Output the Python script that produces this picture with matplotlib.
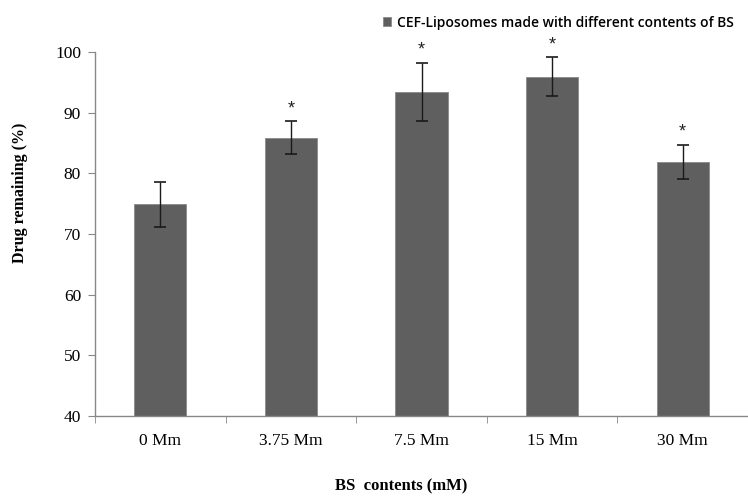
import matplotlib
matplotlib.use('Agg')
import matplotlib.pyplot as plt
import numpy as np

# data
categories = ['0 Mm', '3.75 Mm', '7.5 Mm', '15 Mm', '30 Mm']
drug_remaining = [74.9, 85.9, 93.4, 95.9, 81.9]
sd = [3.7, 2.7, 4.8, 3.2, 2.8]
significant = [False, True, True, True, True]
legend_label = 'CEF-Liposomes made with different contents of BS'

fig = plt.figure(figsize=(7.48, 5.0), dpi=100)
ax = fig.add_axes([95/748, 84/500, 653/748, 364/500])

x = np.arange(len(categories))
ax.bar(x, drug_remaining, width=0.4, color='#5f5f5f', edgecolor='#8a8a8a',
       linewidth=0.6, label=legend_label, zorder=2)
ax.errorbar(x, drug_remaining, yerr=sd, fmt='none', ecolor='#1a1a1a',
            elinewidth=1.0, capsize=4, capthick=1.2, zorder=3)

# 유의성 표시 (*)
for xi, v, e, s in zip(x, drug_remaining, sd, significant):
    if s:
        ax.annotate('*', (xi, v + e), xytext=(0, 3), textcoords='offset points',
                    ha='center', va='bottom', fontsize=13,
                    family='Liberation Sans', color='#222222')

ax.set_ylim(40, 100)
ax.set_xlim(-0.5, 4.435)
ax.set_yticks(np.arange(40, 101, 10))
ax.set_xticks(x)
ax.set_xticklabels(categories)
ax.set_xticks(np.arange(-0.5, 5, 1), minor=True)
ax.tick_params(axis='x', which='major', length=0, pad=12)
ax.tick_params(axis='x', which='minor', length=5, color='#888888', direction='out')
ax.tick_params(axis='y', length=5, color='#888888', direction='out', pad=5)

for lab in ax.get_xticklabels() + ax.get_yticklabels():
    lab.set_family('Liberation Serif')
    lab.set_fontsize(12.5)

for sp in ['top', 'right']:
    ax.spines[sp].set_visible(False)
for sp in ['left', 'bottom']:
    ax.spines[sp].set_color('#888888')
    ax.spines[sp].set_linewidth(1.0)

fig.text(20/748, 1 - 193/500, 'Drug remaining (%)', rotation=90, ha='center',
         va='center', family='Liberation Serif', fontweight='bold', fontsize=11.5)
fig.text(401/748, 1 - 486/500, 'BS  contents (mM)', ha='center', va='center',
         family='Liberation Serif', fontweight='bold', fontsize=12)

fig.legend(loc='upper right', bbox_to_anchor=(746/748, 1 - 3/500), frameon=False,
           handlelength=0.6, handleheight=0.6, handletextpad=0.4,
           prop={'family': 'Open Sans', 'weight': 'semibold', 'size': 10})

fig.savefig('out.png', dpi=100)
